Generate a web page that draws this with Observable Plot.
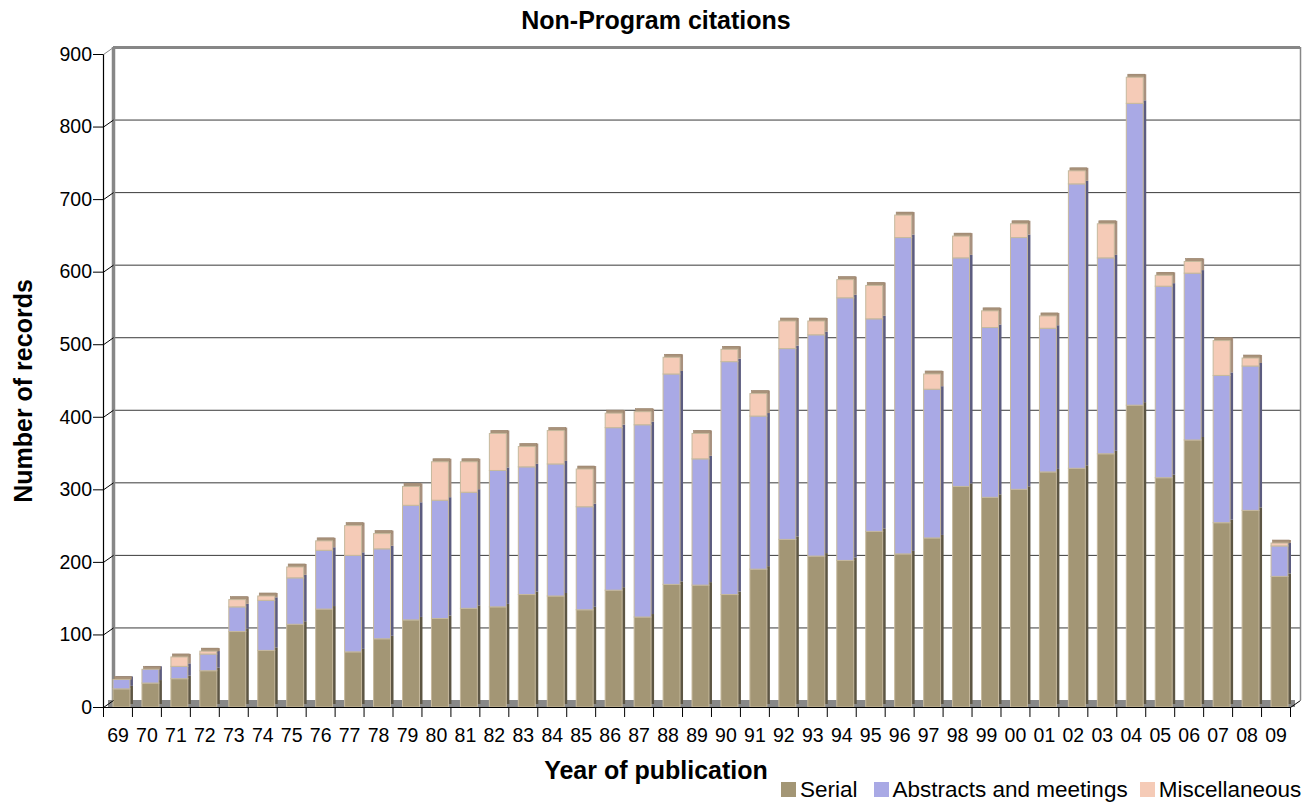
<!DOCTYPE html>
<html>
<head>
<meta charset="utf-8">
<script src="https://cdn.jsdelivr.net/npm/d3@7"></script>
<script src="https://cdn.jsdelivr.net/npm/@observablehq/plot@0.6"></script>
<style>
  body { margin: 0; background: #fff; font-family: "Liberation Sans", Arial, sans-serif; }
  #wrap { position: relative; width: 1312px; height: 804px; overflow: hidden; }
  #title { height: 40px; line-height: 40px; text-align: center; font-weight: bold; font-size: 25px; color: #000; }
  #legend { position: absolute; left: 781px; top: 777px; display: flex; align-items: center;
            font-size: 22.5px; line-height: 25px; white-space: nowrap; color: #000; }
  #legend .sw { width: 15px; height: 15px; margin-right: 4px; display: inline-block; }
  #legend .item { display: flex; align-items: center; }
</style>
</head>
<body>
<div id="wrap">
  <div id="title">Non-Program citations</div>
  <div id="chart"></div>
  <div id="legend"></div>
</div>
<script>
// ---- data ----
const years = ["69","70","71","72","73","74","75","76","77","78","79","80","81","82","83","84","85","86","87","88","89","90","91","92","93","94","95","96","97","98","99","00","01","02","03","04","05","06","07","08","09"];
const serial    = [25,33,39,50,104,78,114,135,76,94,120,122,136,138,155,153,134,161,124,169,168,155,190,231,208,202,242,211,233,304,289,300,324,329,349,416,316,368,254,271,180];
const abstracts = [13,19,17,23,34,69,64,81,133,124,158,163,160,188,176,182,142,224,265,290,174,321,211,263,305,362,293,436,205,315,234,347,198,392,270,416,264,230,203,199,42];
const misc      = [0,0,13,4,10,6,15,13,41,21,26,53,42,51,28,46,52,20,18,23,35,17,31,38,19,25,46,31,21,30,23,19,17,18,47,36,15,16,48,11,4];
const seriesNames = ["Serial", "Abstracts and meetings", "Miscellaneous"];
const yTicks = [0,100,200,300,400,500,600,700,800,900];

// ---- styles ----
const frontColors = ["#a39675", "#a9a9e5", "#f5cbb7"];
const sideColors  = ["#5d5644", "#5c5c80", "#a8917f"];
const topColor = "#a8927a";
const wallColor = "#878787";

// ---- table built from the arrays ----
const seriesValues = [serial, abstracts, misc];
const table = [];
years.forEach((yr, i) => {
  let base = 0;
  seriesValues.forEach((vals, s) => {
    const v = vals[i];
    table.push({i, year: yr, series: seriesNames[s], s, y1: base, y2: base + v});
    base += v;
  });
});
const totals = years.map((yr, i) => ({i, total: serial[i] + abstracts[i] + misc[i]}));

// layout
const W = 1312, H = 764;
const mL = 103, mR = 22, mT = 14, mB = 97;
const bandPx = (W - mL - mR) / years.length;
const pxPerUnit = (H - mT - mB) / 900;
const depthX = 10 / bandPx;      // depth offset in x units
const depthY = 7 / pxPerUnit;    // depth offset in y units

const plot = Plot.plot({
  width: W, height: H,
  marginLeft: mL, marginRight: mR, marginTop: mT, marginBottom: mB,
  x: {type: "linear", domain: [0, years.length]},
  y: {type: "linear", domain: [0, 900]},
  style: {fontFamily: "'Liberation Sans', Arial, sans-serif", fontSize: "19.5px", background: "#fff", color: "#000"},
  marks: [
    // back wall gridlines
    Plot.ruleY(yTicks.filter(v => v > 0 && v < 900), {y: d => d, dx: 10, dy: -7, stroke: "#3a3a3a", strokeWidth: 1}),
    // wall edges
    Plot.ruleY([900], {y: d => d, dx: 10, dy: -7, stroke: wallColor, strokeWidth: 3}),
    Plot.ruleX([0], {x: d => d, dx: 10, dy: -7, stroke: wallColor, strokeWidth: 3.5}),
    Plot.ruleX([years.length], {x: d => d, dx: 10, dy: -7, stroke: wallColor, strokeWidth: 1.5}),
    // floor
    Plot.rect([0], {x1: 0, x2: years.length, y1: 0, y2: 0, insetTop: -7, dx: 5, fill: "#888888"}),
    // side faces (shadow)
    Plot.rect(table, {x1: d => d.i, x2: d => d.i + 1, y1: "y1", y2: "y2", insetLeft: 10, insetRight: 2, dx: 3, dy: -3,
      fill: d => sideColors[d.s]}),
    // top faces
    Plot.rect(totals, {x1: d => d.i, x2: d => d.i + 1, y1: "total", y2: "total", insetTop: -3, insetLeft: 11.5, insetRight: 0.5,
      fill: topColor, stroke: "#9a836c", strokeWidth: 0.6}),
    // front faces
    Plot.rect(table, {x1: d => d.i, x2: d => d.i + 1, y1: "y1", y2: "y2", insetLeft: 10, insetRight: 2,
      fill: d => frontColors[d.s], stroke: "#c6b99d", strokeWidth: 1}),
    // front axis lines
    Plot.ruleY([0], {y: d => d, stroke: "#000", strokeWidth: 1.2}),
    Plot.ruleX([0], {x: d => d, stroke: "#000", strokeWidth: 1.2}),
    // slanted connectors from front axis to back wall
    Plot.link(yTicks, {x1: 0, y1: d => d, x2: depthX, y2: d => d + depthY, stroke: d => d === 900 ? wallColor : "#000", strokeWidth: 1}),
    Plot.link([0], {x1: years.length, y1: 0, x2: years.length + depthX, y2: depthY, stroke: "#000", strokeWidth: 1}),
    // axes
    Plot.axisY(yTicks, {tickSize: 10, tickPadding: 1.5, label: null}),
    Plot.axisX(d3.range(years.length + 1), {tickSize: 10, tickFormat: () => "", label: null}),
    Plot.axisX(d3.range(years.length).map(i => i + 0.5), {tickSize: 0, tickPadding: 21, tickFormat: d => years[Math.floor(d)], label: null}),
    // axis titles
    Plot.text(["Year of publication"], {text: d => d, frameAnchor: "bottom", textAnchor: "middle", lineAnchor: "middle",
      dx: -41, dy: 63, fontSize: 25, fontWeight: "bold"}),
    Plot.text(["Number of records"], {text: d => d, frameAnchor: "left", textAnchor: "middle", lineAnchor: "middle",
      rotate: -90, dx: -80, dy: 10, fontSize: 25, fontWeight: "bold"})
  ]
});
document.getElementById("chart").appendChild(plot);

// legend
const legend = document.getElementById("legend");
seriesNames.forEach((name, s) => {
  const item = document.createElement("span");
  item.className = "item";
  if (s > 0) item.style.marginLeft = s === 1 ? "16px" : "12px";
  const sw = document.createElement("span");
  sw.className = "sw";
  sw.style.background = frontColors[s];
  const t = document.createElement("span");
  t.textContent = name;
  item.appendChild(sw); item.appendChild(t);
  legend.appendChild(item);
});
</script>
</body>
</html>
